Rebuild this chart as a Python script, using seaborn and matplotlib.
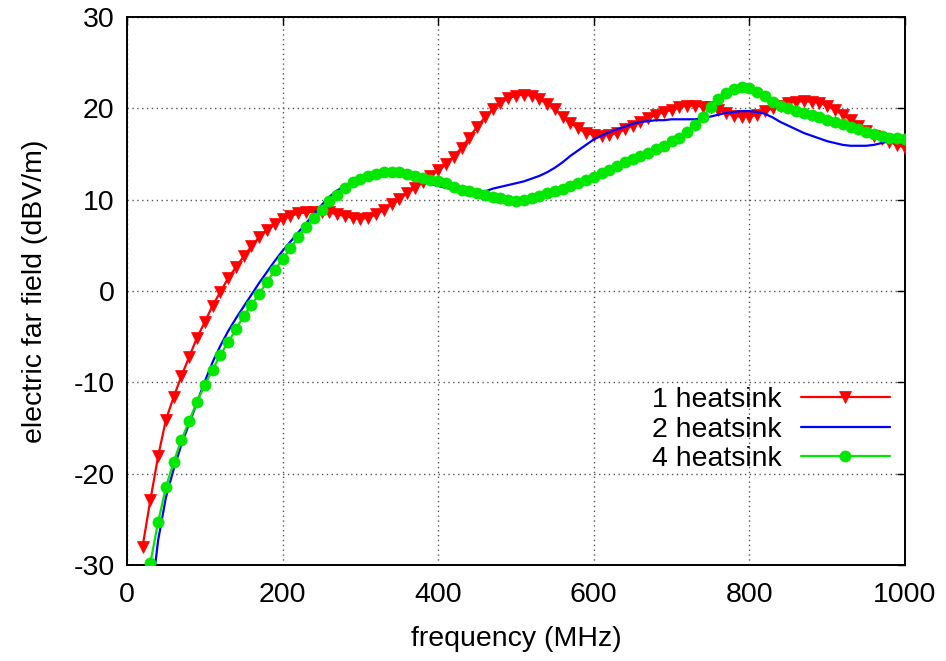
import numpy as np
import pandas as pd
import matplotlib
matplotlib.use("Agg")
import matplotlib.pyplot as plt
import seaborn as sns

# Frequency grid (MHz)
freq_1hs = np.arange(20, 1001, 10)
freq_2hs = np.arange(30, 1001, 10)
freq_4hs = np.arange(30, 1001, 10)

# Electric far field (dBV/m)
field_1hs = [
    -28.0, -22.9, -18.1, -14.1, -11.6, -9.3, -7.2, -5.1, -3.4, -1.6,
    -0.1, 1.4, 2.6, 3.8, 4.9, 5.9, 6.7, 7.3, 7.9, 8.2,
    8.5, 8.6, 8.7, 8.7, 8.6, 8.4, 8.2, 8.0, 7.9, 8.0,
    8.4, 8.9, 9.5, 10.1, 10.7, 11.3, 11.9, 12.6, 13.2, 13.9,
    14.7, 15.7, 16.8, 18.0, 19.0, 19.9, 20.6, 21.1, 21.4, 21.5,
    21.4, 21.0, 20.5, 19.9, 19.1, 18.4, 17.8, 17.3, 17.1, 17.0,
    17.1, 17.3, 17.7, 18.1, 18.5, 18.9, 19.3, 19.6, 19.8, 20.1,
    20.3, 20.3, 20.2, 20.1, 19.8, 19.5, 19.2, 19.1, 19.1, 19.3,
    19.7, 20.0, 20.3, 20.6, 20.7, 20.8, 20.7, 20.6, 20.3, 19.8,
    19.3, 18.7, 18.1, 17.5, 17.0, 16.6, 16.3, 16.0, 15.7,
]
field_2hs = [
    -34.5, -27.3, -22.6, -19.5, -16.8, -14.5, -12.2, -9.9, -7.8, -6.0,
    -4.4, -3.0, -1.7, -0.4, 0.9, 2.1, 3.3, 4.4, 5.4, 6.4,
    7.4, 8.4, 9.4, 10.3, 11.0, 11.5, 11.9, 12.2, 12.5, 12.7,
    12.8, 12.8, 12.7, 12.5, 12.3, 12.0, 11.7, 11.5, 11.3, 11.1,
    10.9, 10.8, 10.8, 10.9, 11.2, 11.4, 11.6, 11.8, 12.0, 12.3,
    12.6, 13.0, 13.5, 14.1, 14.8, 15.4, 16.0, 16.6, 17.0, 17.4,
    17.7, 18.0, 18.3, 18.5, 18.6, 18.7, 18.7, 18.8, 18.8, 18.8,
    18.8, 18.9, 19.1, 19.3, 19.5, 19.6, 19.7, 19.7, 19.6, 19.4,
    19.0, 18.5, 18.1, 17.7, 17.3, 17.0, 16.7, 16.4, 16.2, 16.0,
    15.9, 15.9, 15.9, 16.0, 16.2, 16.4, 16.5, 16.6,
]
field_4hs = [
    -29.8, -25.3, -21.5, -18.7, -16.3, -14.2, -12.1, -10.3, -8.6, -7.0,
    -5.6, -4.2, -2.7, -1.5, -0.3, 1.0, 2.3, 3.5, 4.7, 5.9,
    7.0, 8.0, 8.9, 9.8, 10.5, 11.3, 11.9, 12.3, 12.6, 12.8,
    13.0, 13.0, 13.0, 12.8, 12.6, 12.4, 12.2, 12.0, 11.8, 11.4,
    11.1, 10.9, 10.7, 10.5, 10.3, 10.2, 10.0, 9.9, 10.0, 10.2,
    10.4, 10.7, 11.0, 11.2, 11.5, 11.8, 12.1, 12.5, 12.9, 13.3,
    13.7, 14.1, 14.4, 14.8, 15.1, 15.5, 15.9, 16.4, 16.8, 17.4,
    18.2, 19.1, 20.1, 21.0, 21.7, 22.1, 22.3, 22.2, 21.8, 21.3,
    20.7, 20.3, 20.0, 19.7, 19.5, 19.3, 19.0, 18.7, 18.5, 18.3,
    18.0, 17.7, 17.4, 17.2, 17.0, 16.8, 16.7, 16.6,
]

series_labels = ["1 heatsink", "2 heatsink", "4 heatsink"]
x_ticks = [0, 200, 400, 600, 800, 1000]
y_ticks = [-30, -20, -10, 0, 10, 20, 30]

sns.set_style("white")
plt.rcParams["font.family"] = ["Liberation Sans", "DejaVu Sans"]
plt.rcParams["axes.unicode_minus"] = False
plt.rcParams["text.color"] = "black"
plt.rcParams["axes.labelcolor"] = "black"

FS = 20.5
W, H = 946, 661
fig = plt.figure(figsize=(W / 100, H / 100), dpi=100)
ax = fig.add_axes([127 / W, 1 - 565 / H, (905 - 127) / W, (565 - 17) / H])

df1 = pd.DataFrame({"f": freq_1hs, "v": field_1hs})
df2 = pd.DataFrame({"f": freq_2hs, "v": field_2hs})
df4 = pd.DataFrame({"f": freq_4hs, "v": field_4hs})

sns.lineplot(data=df1, x="f", y="v", ax=ax, color="#ff0000", lw=1.6,
             marker="v", markersize=8, markeredgecolor="#ff0000",
             markeredgewidth=0.5, label=series_labels[0], zorder=3)
sns.lineplot(data=df2, x="f", y="v", ax=ax, color="#0000ff", lw=1.6,
             label=series_labels[1], zorder=4)
sns.lineplot(data=df4, x="f", y="v", ax=ax, color="#00e800", lw=1.6,
             marker="o", markersize=8, markeredgecolor="#00e800",
             markeredgewidth=0.5, label=series_labels[2], zorder=5)

ax.set_xlim(0, 1000)
ax.set_ylim(-30, 30)
ax.set_xticks(x_ticks)
ax.set_yticks(y_ticks)
ax.tick_params(axis="both", which="major", direction="in", length=6, width=1,
               top=True, right=True, labelsize=FS, colors="black")
ax.tick_params(axis="x", pad=12)
ax.tick_params(axis="y", pad=9)
ax.grid(True, color="#555555", linestyle=(0, (1, 2.5)), linewidth=1.0)
for s in ax.spines.values():
    s.set_visible(True)
    s.set_color("black")
    s.set_linewidth(1.4)

ax.set_xlabel("frequency (MHz)", fontsize=FS, labelpad=13, color="black")
ax.set_ylabel("electric far field (dBV/m)", fontsize=FS, labelpad=18,
              color="black")

leg = ax.legend(loc="upper right", bbox_to_anchor=(901 / W, 1 - 376 / H),
                bbox_transform=fig.transFigure, frameon=False,
                markerfirst=False, fontsize=FS, handlelength=3.1,
                handletextpad=0.7, labelspacing=0.12, borderaxespad=0)
for t in leg.get_texts():
    t.set_ha("right")
    t.set_color("black")

fig.savefig("out.png", dpi=100)
